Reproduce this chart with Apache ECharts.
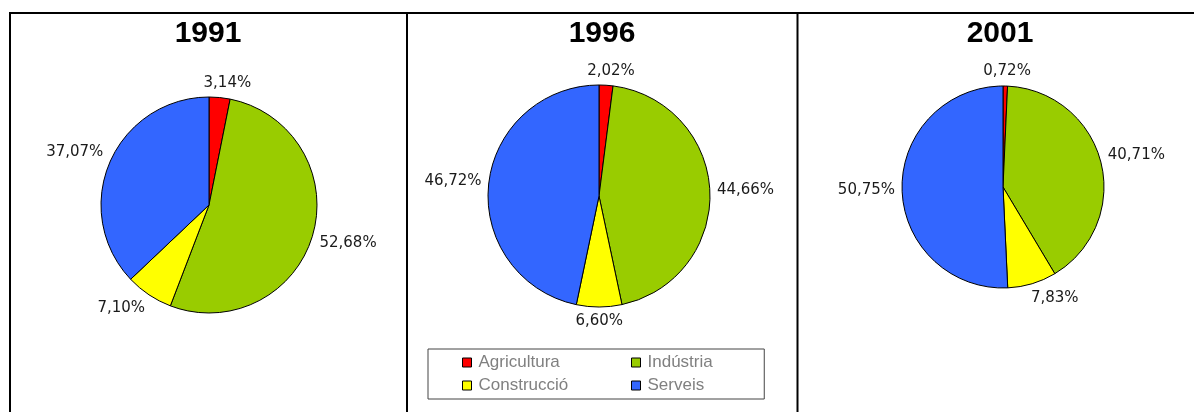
<!DOCTYPE html>
<html>
<head>
<meta charset="utf-8">
<script src="https://cdn.jsdelivr.net/npm/echarts@6/dist/echarts.min.js"></script>
<style>
  html, body { margin: 0; padding: 0; background: #fff; }
  #main { width: 1194px; height: 412px; }
</style>
</head>
<body>
<div id="main"></div>
<script>
// dades
var years = ['1991', '1996', '2001'];
var sectors = ['Agricultura', 'Indústria', 'Construcció', 'Serveis'];
var pct1991 = [3.14, 52.68, 7.10, 37.07];
var pct1996 = [2.02, 44.66, 6.60, 46.72];
var pct2001 = [0.72, 40.71, 7.83, 50.75];
var colors = ['#ff0000', '#99cc00', '#ffff00', '#3366ff'];

var allVals = [pct1991, pct1996, pct2001];
// posicio de cada pastis (px)
var centers = [[209, 205], [599, 196], [1003, 187]];
var radii = [108, 111, 101];
var titleX = [208, 602, 1000];

var myChart = echarts.init(document.getElementById('main'));

// etiquetes fora del pastis, com a l'Excel
function placeLabel(k) {
    return function (p) {
        var vals = allVals[k];
        var total = 0, before = 0;
        for (var i = 0; i < vals.length; i++) {
            total += vals[i];
            if (i < p.dataIndex) before += vals[i];
        }
        var a = (before + vals[p.dataIndex] / 2) / total * 2 * Math.PI;
        var dx = Math.sin(a), dy = -Math.cos(a);
        var d = radii[k] + 7;
        var fx = Math.max(-1, Math.min(1, 3 * dx));
        var fy = Math.max(-1, Math.min(1, 3 * dy));
        return {
            x: centers[k][0] + dx * d + fx * p.labelRect.width / 2,
            y: centers[k][1] + dy * d + fy * p.labelRect.height / 2,
            align: 'center',
            verticalAlign: 'middle'
        };
    };
}

function fmt(v) {
    return v.toFixed(2).replace('.', ',') + '%';
}

var titles = [], series = [];
for (var k = 0; k < years.length; k++) {
    titles.push({
        text: years[k],
        left: titleX[k],
        top: 19,
        padding: 0,
        textAlign: 'center',
        textStyle: { fontFamily: 'Liberation Sans', fontSize: 30, fontWeight: 'bold', color: '#000' }
    });
    series.push({
        type: 'pie',
        center: centers[k],
        radius: radii[k],
        startAngle: 90,
        clockwise: true,
        avoidLabelOverlap: false,
        silent: true,
        itemStyle: { borderColor: '#000', borderWidth: 1 },
        label: {
            show: true,
            position: 'outside',
            formatter: function (p) { return fmt(p.value); },
            fontFamily: 'DejaVu Sans',
            fontSize: 15,
            color: '#1a1a1a'
        },
        labelLine: { show: false },
        labelLayout: placeLabel(k),
        data: sectors.map(function (s, i) {
            return { name: s, value: allVals[k][i], itemStyle: { color: colors[i] } };
        })
    });
}

var legendText = { fontFamily: 'Liberation Sans', fontSize: 17, color: '#808080', width: 100, padding: [0, 0, 0, 2] };

var option = {
    animation: false,
    title: titles,
    legend: [{
        data: ['Agricultura', 'Construcció'],
        orient: 'vertical',
        left: 428,
        top: 349,
        padding: [5, 196, 5, 34],
        itemGap: 6,
        itemWidth: 9,
        itemHeight: 9,
        icon: 'rect',
        borderColor: '#444',
        borderWidth: 1,
        selectedMode: false,
        itemStyle: { borderColor: '#000', borderWidth: 1 },
        textStyle: legendText
    }, {
        data: ['Indústria', 'Serveis'],
        orient: 'vertical',
        left: 631,
        top: 349,
        padding: [5, 0, 5, 0],
        itemGap: 6,
        itemWidth: 9,
        itemHeight: 9,
        icon: 'rect',
        selectedMode: false,
        itemStyle: { borderColor: '#000', borderWidth: 1 },
        textStyle: legendText
    }],
    graphic: [
        { type: 'rect', shape: { x: 10, y: 13, width: 1200, height: 420 }, style: { fill: null, stroke: '#000', lineWidth: 2 }, silent: true },
        { type: 'line', shape: { x1: 407, y1: 13, x2: 407, y2: 420 }, style: { stroke: '#000', lineWidth: 2 }, silent: true },
        { type: 'line', shape: { x1: 797.5, y1: 13, x2: 797.5, y2: 420 }, style: { stroke: '#000', lineWidth: 2 }, silent: true }
    ],
    series: series
};
myChart.setOption(option);
</script>
</body>
</html>
